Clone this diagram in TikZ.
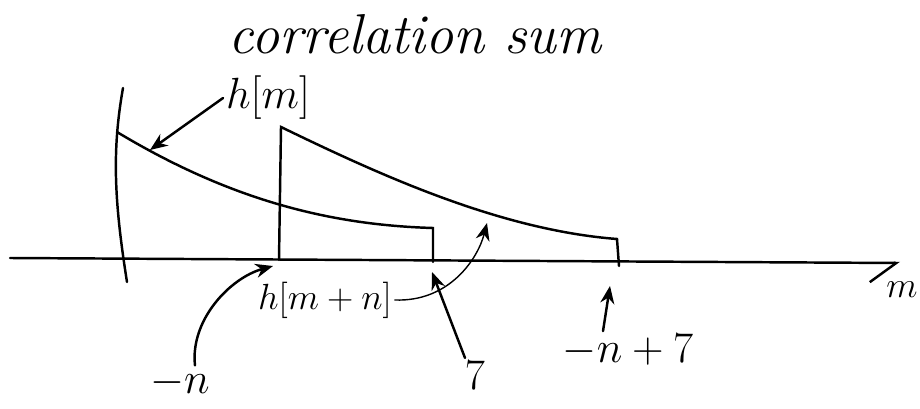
\documentclass[tikz,border=0pt]{standalone}
\usetikzlibrary{arrows.meta}
\begin{document}
\begin{tikzpicture}[x=0.02cm, y=-0.02cm, line width=1.4pt, line cap=round,
    every node/.style={inner sep=1pt, font=\Huge},
    pointer/.style={-{Stealth[length=10pt,width=8pt]}, line width=1.4pt}]
    \useasboundingbox (0,0) rectangle (920,409);
    \coordinate (L) at (10,258);
    \coordinate (R) at (900,263);
    \coordinate (hmtip) at (150,150);
    \coordinate (negntip) at (273,266);
    \coordinate (seventip) at (432,272);
    \coordinate (np7tip) at (610,286);
    \coordinate (curvetip) at (487,223);

    % axes
    \draw[-{Straight Barb[right,length=15pt,width=22pt]}] (L) -- (R);
    \draw (123,88) .. controls (112,150) and (114,200) .. (127,282);

    % h[m] and its shifted copy
    \draw (117,132) .. controls (230,200) and (330,225) .. (433,228) -- (433,262);
    \draw (279,260) -- (281,127) .. controls (380,175) and (500,230) .. (617,239) -- (619,266);

    % labels
    \node[font=\fontsize{32}{38}\selectfont\itshape] (title) at (415,34) {correlation sum};
    \node (hm) at (268,98) {$h[m]$};
    \node[font=\huge] (hmn) at (325,300) {$h[m+n]$};
    \node (negn) at (180,383) {$-n$};
    \node (seven) at (475,375) {$7$};
    \node (np7) at (628,350) {$-n+7$};
    \node[font=\huge] (m) at (902,290) {$m$};

    % pointers
    \draw[pointer] (hm.west) -- (hmtip);
    \draw[pointer] ([xshift=0.3cm]negn.north) .. controls (190,320) and (230,278) .. (negntip);
    \draw[pointer] ([xshift=-0.2cm]seven.north) -- (seventip);
    \draw[pointer] ([xshift=-0.5cm]np7.north) -- (np7tip);
    \draw[pointer, line width=0.8pt] (hmn.east) .. controls (450,302) and (478,258) .. (curvetip);
\end{tikzpicture}
\end{document}
